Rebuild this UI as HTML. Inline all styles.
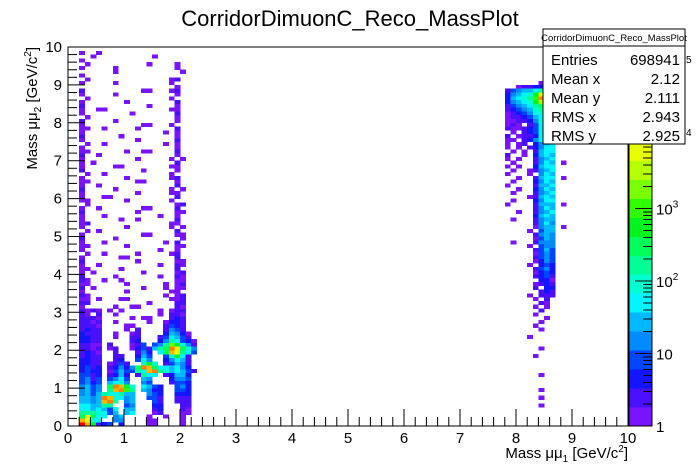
<!DOCTYPE html>
<html><head><meta charset="utf-8"><style>
html,body{margin:0;padding:0;background:#fff;}
svg{display:block;font-family:"Liberation Sans",Arial,sans-serif;}
</style></head><body>
<svg id="c" width="698" height="474" viewBox="0 0 698 474" xmlns="http://www.w3.org/2000/svg">
<rect x="0" y="0" width="698" height="474" fill="#fff"/>
<text x="350" y="26" font-size="22" text-anchor="middle">CorridorDimuonC_Reco_MassPlot</text>
<g id="cells" shape-rendering="crispEdges"></g>
<rect x="68" y="47" width="560" height="379" fill="none" stroke="#000" stroke-width="1"/>
<g id="axes"></g>
<g id="palette" shape-rendering="crispEdges"></g>
<text x="628" y="458" font-size="15" text-anchor="end">Mass μμ<tspan font-size="10" dy="4">1</tspan><tspan dy="-4"> [GeV/c</tspan><tspan font-size="10" dy="-6">2</tspan><tspan dy="6">]</tspan></text>
<text transform="translate(37,47) rotate(-90)" font-size="15" text-anchor="end">Mass μμ<tspan font-size="10" dy="4">2</tspan><tspan dy="-4"> [GeV/c</tspan><tspan font-size="10" dy="-6">2</tspan><tspan dy="6">]</tspan></text>
<g>
<rect x="543" y="29" width="142" height="115" fill="#fff" stroke="#000"/>
<line x1="543" y1="46" x2="685" y2="46" stroke="#000"/>
<text x="614" y="41" font-size="9.5" text-anchor="middle">CorridorDimuonC_Reco_MassPlot</text>
<text x="551" y="65" font-size="15">Entries</text><text x="680" y="65" font-size="15" text-anchor="end">698941</text>
<text x="551" y="84" font-size="15">Mean x</text><text x="680" y="84" font-size="15" text-anchor="end">2.12</text>
<text x="551" y="103" font-size="15">Mean y</text><text x="680" y="103" font-size="15" text-anchor="end">2.111</text>
<text x="551" y="122" font-size="15">RMS x</text><text x="680" y="122" font-size="15" text-anchor="end">2.943</text>
<text x="551" y="141" font-size="15">RMS y</text><text x="680" y="141" font-size="15" text-anchor="end">2.925</text>
</g>
<text x="686" y="63" font-size="10">5</text>
<text x="686" y="136" font-size="10">4</text>
</svg>
<script>
// palette band colours (level index 0..19)
const paletteColors=["#7a14ff","#4a0fff","#1414ff","#0046ff","#008cff","#00b9ff","#00f5ff","#00ffd0","#00ff95","#00ff5a","#00f520","#30ff00","#7aff00","#b5ff00","#e8ff00","#ffe600","#ffb400","#ff8000","#ff4600","#ff0000"];
const levelChars="0123456789abcdefghij";
// left region: x bins 0.., row index = y bin from bottom
const leftRows=[
"..jga123.2....00....0..","..ge76..44....00....0..","..9e966.45....0..0..0..","..8887635.56...01...00.",
"..6656536.55...12...10.","..665588..34...22...11.","..5545gh8.45...31..111.","..5545hg7645..331..111.",
"..4535876855..432..222.","..4534.8ghb8.5422..332.","..4534.9hga7.6532..342.","..3423.5674..43...1332.",
"..3413.3463..54...2443.","..3312.1252.1866.12552.","..2322.0353386gh8756531","..2312.124249hg9665642.",
"..2211.0131..7a7.13541.","..2211..12..364..24651.","..1211..11..253..37a61.","..1210..1...142.69ge863",
"..1101.01..0231589hf974","..1100.1...013.348ca741","..2211.....12...2486320","..2211..0..11...136531.",
"..2111..0..01....25420.","..1211....0.1....1431..","..1110....00.....1321..","..1101..0.....0..0221..",
"..1110.....0.00...121..","..10.1..0.......0.110..","..1010.0.0......0.011..","..0.....0..00......10..",
"..11..........0....11..","..00.0...00.......001..","..10.............0.01..","..0.......0.......00...",
"..1.0........0...0.00..","..00......0......0.01..","..10..0..0.........00..","..1.....0.......0..10..",
"..0.0........0.....01","..00.....0.........1","..0..0..........0..10","..1.........0......00",
"..0......00........1","...0..0.....0.....01","..0.............0..0","..00......0........00",
"..0...0..........0.1","..1.....0...........0","..0..........00....00","...0.0.............1",
"..0.......0.......0.0","..01..............00","..0......0..0......1","..0...0.........0..0",
"..1.........0......00","..0..0.......00....1","...0...............01","..00......0.......0",
"..0...00...........1","..0.........0.....00","..1.....0.........0.0","..0..0.............1",
"..00........00.....0","..0.......0.......01","...0..0...........0","..1..........0.....0",
"..0.....00........00","..0.0..............1","..0.........0.....0.0","..1..0.............0",
"..00......0..00....1","..0................0","...0..0..........0.0","..0.........0......1",
"..1......0.........0","..0..............0.0","..00..0.....0......1","..0..........00...0",
"..1.....0..........0","...0...............0","..0........0.......1","..0..00...........00",
"..1...........0....0","..0.......0........1","...0..............0","..0.....0..........0",
"..1..........00...01","...................0","..0.....0.........0","...0..............01",
"..0","........0...........0","..0.....0..........0","...0..........0....0",
"..0","....0..........0","..0..0"];
// right region starts at x bin 76; entries are [yBin, row]
const rightStart=76;
const rightRows=[
[90,"........0"],[89,"....01122"],[88,"..13455689"],[87,"..24567aec8"],[86,"..25678bhe9"],[85,"..24567adc8"],
[84,"..1345689b7"],[83,"..1234578a6"],[82,"..0123467a6"],[81,"..0112356a5"],[80,"..00112478"],[79,"..010.1367"],
[78,"..10012367"],[77,"...0.12367"],[76,"..1.011266"],[75,"..00.12467"],[74,"..0.01.2456"],[73,"..0.0.12466"],
[72,"...0.0.1566"],[71,"..1..0.2565"],[70,"..0.0..1456"],[69,"...0...1465.0"],[68,"..0.0..2566"],[67,"...0..01456"],
[66,"..0...0.465"],[65,"....0..1566.0"],[64,"...0...2465"],[63,"..0....1556"],[62,"....0..2465"],[61,"...0...1456"],
[60,"......01565"],[59,"...0...2466"],[58,"..0....1555.0"],[57,".......1465"],[56,"....0..1456"],[55,".......2565"],
[54,"...0...1455"],[53,".......1464"],[52,".......0455.0"],[51,"......0.355"],[50,".......1454"],[49,".......0354"],
[48,"...0...1444"],[47,"......0.344"],[46,".......1353"],[45,".......0343"],[44,".......1343"],[43,".......0243"],
[42,"......0.232"],[41,".......1342"],[40,".......0232"],[39,".......1231"],[38,"........220"],[37,".......0121"],
[36,".......1.22"],[35,"........121"],[34,"......0.111"],[33,".......0.1"],[32,"........10"],[31,".......0.0"],
[30,"........1"],[29,".......0"],[28,".........0"],[27,"........0"],[26,".......0"],[25,"........0"],
[23,"......0"],[20,"........0"],[18,".......0"],[13,"........0"],[9,"........0"],[7,"........0"],[5,"........0"]];
const xTicks=[0,1,2,3,4,5,6,7,8,9,10];
const yTicks=[0,1,2,3,4,5,6,7,8,9,10];
const zTicks=[{v:1,t:"1"},{v:10,t:"10"},{v:100,t:"10",e:"2"},{v:1000,t:"10",e:"3"}];

const NS="http://www.w3.org/2000/svg";
const X0=68,X1=628,Y0=426,Y1=47;
function xs(v){return X0+(v/10)*(X1-X0);}
function ys(v){return Y0-(v/10)*(Y0-Y1);}
const binW=(X1-X0)/100, binH=(Y0-Y1)/100;
const PAL_TOP=47,PAL_BOT=426,PAL_X=629,PAL_W=23,DEC=72.5;
function zs(v){return PAL_BOT-Math.log10(v)*DEC;}
function mk(tag,attrs,parent){const e=document.createElementNS(NS,tag);for(const k in attrs)e.setAttribute(k,attrs[k]);parent.appendChild(e);return e;}

const cells=document.getElementById('cells');
function drawCell(ix,iy,lvl){
  const r=mk('rect',{x:xs(ix/10).toFixed(2),y:ys((iy+1)/10).toFixed(2),width:(binW+0.3).toFixed(2),height:(binH+0.3).toFixed(2),fill:paletteColors[lvl]},cells);
  
  
}
leftRows.forEach((row,iy)=>{for(let i=0;i<row.length;i++){const k=levelChars.indexOf(row[i]);if(k>=0)drawCell(i,iy,k);}});
rightRows.forEach(([iy,row])=>{for(let i=0;i<row.length;i++){const k=levelChars.indexOf(row[i]);if(k>=0)drawCell(rightStart+i,iy,k);}});

const axes=document.getElementById('axes');
for(let i=0;i<=50;i++){
  const v=i*0.2, major=(i%5===0), L=major?17:9;
  const tx=mk('line',{x1:xs(v),x2:xs(v),y1:Y0,y2:Y0-L,stroke:'#000'},axes);
  
  
  const ty=mk('line',{x1:X0,x2:X0+L,y1:ys(v),y2:ys(v),stroke:'#000'},axes);
  
  
}
xTicks.forEach(v=>{const t=mk('text',{x:xs(v),y:443,'font-size':15,'text-anchor':'middle'},axes);t.textContent=String(v);
  
  });
yTicks.forEach(v=>{const t=mk('text',{x:62,y:ys(v)+5,'font-size':15,'text-anchor':'end'},axes);t.textContent=String(v);
  
  });

const pal=document.getElementById('palette');
const bandH=(PAL_BOT-PAL_TOP)/paletteColors.length;
paletteColors.forEach((c,i)=>{const r=mk('rect',{x:PAL_X,y:(PAL_BOT-(i+1)*bandH).toFixed(2),width:PAL_W,height:(bandH+0.3).toFixed(2),fill:c},pal);
  
  });
for(let d=0;d<=5;d++){for(let m=1;m<=9;m++){const v=Math.pow(10,d)*m;const y=zs(v);if(y<PAL_TOP)continue;
  const L=(m===1)?17:9;const l=mk('line',{x1:PAL_X+PAL_W,x2:PAL_X+PAL_W-L,y1:y,y2:y,stroke:'#000'},pal);
  
  }}
zTicks.forEach(z=>{const t=mk('text',{x:656,y:zs(z.v)+6,'font-size':15},pal);t.textContent=z.t;
  if(z.e){const s=mk('tspan',{'font-size':10,dy:-7},t);s.textContent=z.e;}
  
  });
mk('rect',{x:PAL_X,y:PAL_TOP,width:PAL_W,height:PAL_BOT-PAL_TOP,fill:'none',stroke:'#000'},pal);
</script>
</body></html>
